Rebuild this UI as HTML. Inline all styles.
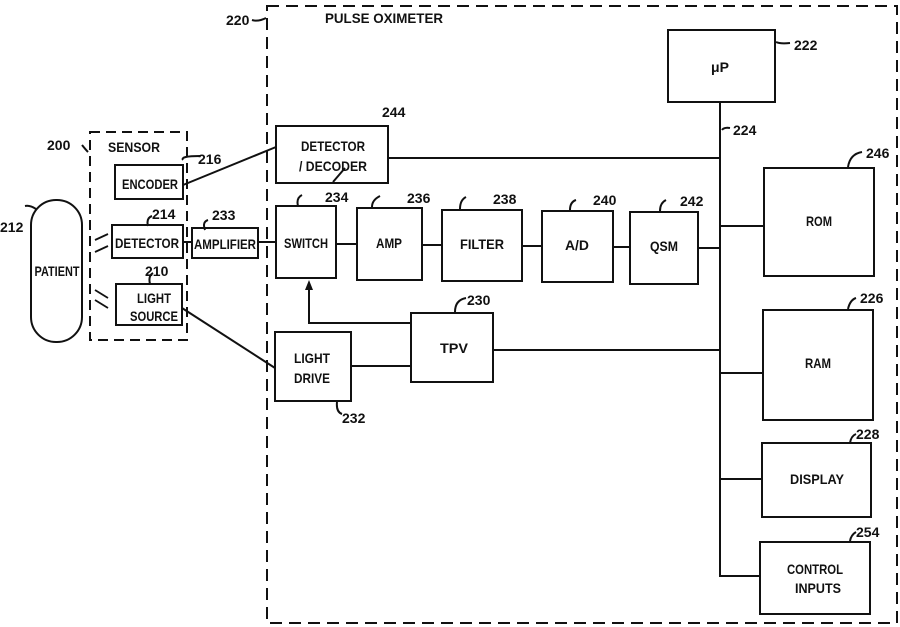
<!DOCTYPE html>
<html><head><meta charset="utf-8"><style>
html,body{margin:0;padding:0;background:#fff;}
svg{display:block;}
text{font-family:"Liberation Sans",sans-serif;font-weight:bold;fill:#111;}
</style></head><body>
<svg width="900" height="627" viewBox="0 0 900 627" xmlns="http://www.w3.org/2000/svg">
<g fill="none" stroke="#111" stroke-width="2">
<rect x="267" y="6" width="630" height="617" stroke-dasharray="12,7"/>
<rect x="90" y="132" width="97" height="208" stroke-dasharray="10,6"/>
<rect x="31" y="200" width="51" height="142" rx="25" ry="25"/>
<rect x="115" y="165" width="68" height="34"/>
<rect x="112" y="225" width="71" height="33"/>
<rect x="116" y="284" width="66" height="41"/>
<rect x="192" y="228" width="66" height="30"/>
<rect x="276" y="126" width="112" height="57"/>
<rect x="276" y="206" width="60" height="72"/>
<rect x="357" y="208" width="65" height="72"/>
<rect x="442" y="210" width="80" height="71"/>
<rect x="542" y="211" width="71" height="71"/>
<rect x="630" y="212" width="68" height="72"/>
<rect x="668" y="30" width="107" height="72"/>
<rect x="764" y="168" width="110" height="108"/>
<rect x="763" y="310" width="110" height="110"/>
<rect x="762" y="443" width="109" height="74"/>
<rect x="760" y="542" width="110" height="72"/>
<rect x="411" y="313" width="82" height="69"/>
<rect x="275" y="332" width="76" height="69"/>
<path d="M183 185 L276 147"/>
<path d="M182 308 L275 368"/>
<path d="M183 242 H192 M258 242 H276"/>
<path d="M336 244 H357 M422 245 H442 M522 246 H542 M613 247 H630 M698 248 H720"/>
<path d="M388 158 H720"/>
<path d="M720 102 V576 H760"/>
<path d="M720 226 H764 M720 373 H763 M720 479 H762"/>
<path d="M493 350 H720"/>
<path d="M351 366 H411"/>
<path d="M411 323 H309 V286"/>
<path d="M95 240 L108 234 M95 252 L108 246 M95 290 L108 298 M95 300 L108 308" stroke-width="1.8"/>
<path d="M36 209 Q30 205 25 206 M82 145 Q86 150 88 152 M183 160 Q180 156 200 156 M148 226 Q146 218 152 216 M205 230 Q202 222 208 220 M150 284 Q148 276 153 273 M252 20 Q258 22 266 18 M333 182 L345 168 M298 206 Q296 198 302 195 M372 207 Q372 200 380 196 M460 209 Q460 200 466 197 M570 210 Q570 202 576 200 M660 211 Q660 203 666 200 M776 42 Q780 44 790 43 M722 130 Q724 127 730 128 M848 167 Q850 154 862 152 M848 309 Q850 300 856 298 M850 443 Q851 436 856 434 M850 541 Q851 535 856 532 M337 402 Q336 412 342 414 M455 312 Q455 300 466 298"/>
</g>
<path d="M309 280 L305 290 L313 290 Z" fill="#111"/>
<g font-size="14" text-anchor="middle" lengthAdjust="spacingAndGlyphs">
<text x="134" y="152" textLength="52" lengthAdjust="spacingAndGlyphs">SENSOR</text>
<text x="384" y="23" textLength="118" lengthAdjust="spacingAndGlyphs">PULSE OXIMETER</text>
<text x="150" y="189" textLength="56" lengthAdjust="spacingAndGlyphs">ENCODER</text>
<text x="147" y="248" textLength="64" lengthAdjust="spacingAndGlyphs">DETECTOR</text>
<text x="225" y="249" textLength="62" lengthAdjust="spacingAndGlyphs">AMPLIFIER</text>
<text x="154" y="303" textLength="34" lengthAdjust="spacingAndGlyphs">LIGHT</text>
<text x="154" y="321" textLength="48" lengthAdjust="spacingAndGlyphs">SOURCE</text>
<text x="57" y="276" textLength="45" lengthAdjust="spacingAndGlyphs">PATIENT</text>
<text x="333" y="151" textLength="64" lengthAdjust="spacingAndGlyphs">DETECTOR</text>
<text x="333" y="171" textLength="68" lengthAdjust="spacingAndGlyphs">/ DECODER</text>
<text x="306" y="248" textLength="44" lengthAdjust="spacingAndGlyphs">SWITCH</text>
<text x="389" y="248" textLength="26" lengthAdjust="spacingAndGlyphs">AMP</text>
<text x="482" y="249" textLength="44" lengthAdjust="spacingAndGlyphs">FILTER</text>
<text x="577" y="250" textLength="24" lengthAdjust="spacingAndGlyphs">A/D</text>
<text x="664" y="251" textLength="28" lengthAdjust="spacingAndGlyphs">QSM</text>
<text x="720" y="72">μP</text>
<text x="819" y="226" textLength="26" lengthAdjust="spacingAndGlyphs">ROM</text>
<text x="818" y="368" textLength="26" lengthAdjust="spacingAndGlyphs">RAM</text>
<text x="817" y="484" textLength="54" lengthAdjust="spacingAndGlyphs">DISPLAY</text>
<text x="815" y="574" textLength="56" lengthAdjust="spacingAndGlyphs">CONTROL</text>
<text x="818" y="593" textLength="46" lengthAdjust="spacingAndGlyphs">INPUTS</text>
<text x="454" y="353" textLength="28" lengthAdjust="spacingAndGlyphs">TPV</text>
<text x="312" y="363" textLength="36" lengthAdjust="spacingAndGlyphs">LIGHT</text>
<text x="312" y="383" textLength="36" lengthAdjust="spacingAndGlyphs">DRIVE</text>
</g>
<g font-size="14">
<text x="47" y="150">200</text>
<text x="0" y="232">212</text>
<text x="198" y="164">216</text>
<text x="152" y="219">214</text>
<text x="212" y="220">233</text>
<text x="145" y="276">210</text>
<text x="226" y="25">220</text>
<text x="382" y="117">244</text>
<text x="325" y="202">234</text>
<text x="407" y="203">236</text>
<text x="493" y="204">238</text>
<text x="593" y="205">240</text>
<text x="680" y="206">242</text>
<text x="794" y="50">222</text>
<text x="733" y="135">224</text>
<text x="866" y="158">246</text>
<text x="860" y="303">226</text>
<text x="856" y="439">228</text>
<text x="856" y="537">254</text>
<text x="342" y="423">232</text>
<text x="467" y="305">230</text>
</g>
</svg>
</body></html>
